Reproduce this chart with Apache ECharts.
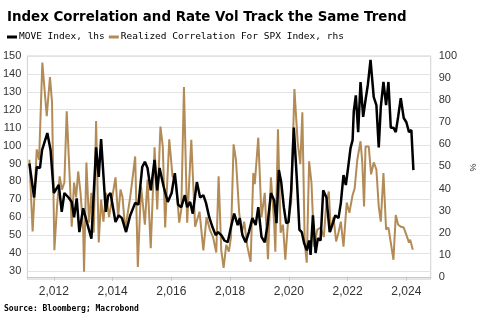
<!DOCTYPE html>
<html>
<head>
<meta charset="utf-8">
<script src="https://cdn.jsdelivr.net/npm/echarts@6/dist/echarts.min.js"></script>
<style>
html,body{margin:0;padding:0;background:#fff;}
#chart{width:485px;height:326px;}
</style>
</head>
<body>
<div id="chart"></div>
<script>
const titleText = 'Index Correlation and Rate Vol Track the Same Trend';
const sourceText = 'Source: Bloomberg; Macrobond';
const moveName = 'MOVE Index, lhs';
const corrName = 'Realized Correlation For SPX Index, rhs';
const yearTicks = [2012, 2014, 2016, 2018, 2020, 2022, 2024];

const moveYears = [2011.17,2011.33,2011.42,2011.53,2011.60,2011.78,2011.89,2012.00,2012.17,2012.27,2012.36,2012.50,2012.61,2012.69,2012.78,2012.87,2013.00,2013.13,2013.28,2013.44,2013.53,2013.61,2013.77,2013.85,2013.93,2014.10,2014.21,2014.32,2014.46,2014.60,2014.77,2014.88,2015.01,2015.10,2015.19,2015.30,2015.43,2015.52,2015.60,2015.74,2015.88,2016.01,2016.12,2016.23,2016.34,2016.46,2016.54,2016.64,2016.73,2016.87,2016.98,2017.09,2017.18,2017.29,2017.40,2017.51,2017.59,2017.70,2017.81,2017.92,2018.03,2018.14,2018.26,2018.33,2018.42,2018.53,2018.64,2018.76,2018.87,2018.96,2019.07,2019.18,2019.27,2019.39,2019.50,2019.58,2019.66,2019.74,2019.83,2019.91,2019.99,2020.08,2020.17,2020.28,2020.36,2020.44,2020.52,2020.61,2020.69,2020.74,2020.82,2020.91,2020.99,2021.08,2021.17,2021.28,2021.39,2021.50,2021.58,2021.69,2021.77,2021.86,2021.94,2022.02,2022.10,2022.17,2022.21,2022.28,2022.36,2022.44,2022.53,2022.61,2022.69,2022.78,2022.89,2022.98,2023.06,2023.13,2023.22,2023.31,2023.39,2023.47,2023.56,2023.64,2023.72,2023.81,2023.91,2024.00,2024.09,2024.17,2024.24];
const moveValues = [90,71,88,87.5,97.5,107,97.5,73.5,78,63,73.5,71,68.5,60,70.5,51.7,65,57,48,99,82.5,103.6,63,72,73.5,57.3,61,59.5,51.7,61,68,67,88,91,87.5,75,92,75,87.5,77,68.5,73.5,84.6,67,65.6,72.3,65.6,68.5,62,79.6,71,72.3,68,60,54.5,50,51.7,50,47,46,54.5,62,55.6,59.5,50,46,51.7,59.5,55.6,65.6,49,46,55,73.5,69.5,56.7,86.3,79.6,65.6,56.7,57.3,75,110,79,53,51.7,45.5,41.5,47,39,61,40,48.3,47,75,71,51.7,56.7,61,59.5,68,83.5,78,88,98.6,103,119,128,107.5,135.5,116,125.4,134,147.8,127,122.6,99,121.5,135.5,122.6,135.5,110,110,107.5,116,126.5,115.4,113,107.5,108.7,86.3];

const corrYears = [2011.17,2011.28,2011.42,2011.50,2011.61,2011.76,2011.87,2011.94,2012.02,2012.11,2012.20,2012.28,2012.36,2012.44,2012.56,2012.61,2012.69,2012.76,2012.83,2012.91,2013.00,2013.03,2013.11,2013.20,2013.28,2013.36,2013.44,2013.53,2013.61,2013.69,2013.78,2013.88,2014.10,2014.19,2014.27,2014.34,2014.43,2014.60,2014.77,2014.86,2014.97,2015.10,2015.19,2015.30,2015.43,2015.52,2015.63,2015.71,2015.79,2015.93,2016.04,2016.16,2016.27,2016.34,2016.43,2016.54,2016.68,2016.81,2016.96,2017.09,2017.20,2017.31,2017.42,2017.53,2017.61,2017.70,2017.78,2017.87,2017.96,2018.03,2018.12,2018.20,2018.31,2018.40,2018.48,2018.59,2018.70,2018.79,2018.84,2018.96,2019.07,2019.18,2019.29,2019.39,2019.50,2019.54,2019.63,2019.72,2019.80,2019.88,2019.97,2020.08,2020.19,2020.30,2020.39,2020.46,2020.54,2020.61,2020.69,2020.77,2020.86,2020.97,2021.08,2021.19,2021.28,2021.36,2021.43,2021.52,2021.61,2021.69,2021.77,2021.86,2021.97,2022.06,2022.17,2022.24,2022.33,2022.44,2022.50,2022.56,2022.61,2022.72,2022.80,2022.89,2022.98,2023.06,2023.13,2023.22,2023.31,2023.39,2023.47,2023.56,2023.64,2023.72,2023.81,2023.91,2024.00,2024.09,2024.13,2024.22];
const corrValues = [53,20.5,57.7,53,97,72.7,90.5,79,12,32,45.5,39.5,42.7,75,39.5,22.7,42.7,36,47.7,38,21.4,2.3,51.8,24.5,38,20,70.5,15.5,35,25,38,27,45,27,39.5,36,21.4,36,54.5,4.5,41,23.6,44,13,58.6,30.5,68,59,22.3,62.3,45.5,42.7,24.5,30.5,86,24.5,62,22.7,29.5,12,27,21.4,18,11,45.5,12,4,14.5,11.4,18,60,53,29,20,25,13.6,6.8,47,42,63,27,38,8,45,24.5,11.4,66.8,20,23.6,7.7,24.5,33.6,85,61,51,74.5,15.5,6.4,52.3,42.7,13.6,21.4,22.3,18,33.6,38.6,20.5,27,16,20,25,13.6,33.6,29,37,40,53,61.4,51.8,31.8,59,59,46.4,51.8,48.6,31.8,25,47,21.4,22.3,15.5,7.7,28,23.6,22.7,22.3,19,15.5,16.8,12.3];

const moveData = moveYears.map((y, i) => [y, moveValues[i]]);
const corrData = corrYears.map((y, i) => [y, corrValues[i]]);

const labelColor = '#333';
const chart = echarts.init(document.getElementById('chart'), null, {renderer: 'canvas'});
chart.setOption({
  animation: false,
  backgroundColor: '#fff',
  title: {
    text: titleText, left: 2, top: 6,
    textStyle: {fontFamily: 'DejaVu Sans', fontWeight: 'bold', fontSize: 13.4, color: '#000'}
  },
  legend: {
    left: 2, top: 27, itemGap: 4, itemWidth: 10, itemHeight: 3, icon: 'rect',
    data: [moveName, corrName],
    textStyle: {fontFamily: 'DejaVu Sans Mono', fontSize: 9.5, color: '#000', padding: [0, 0, 0, -3]}
  },
  graphic: [{
    type: 'text', left: 4, top: 305,
    style: {text: sourceText, fontFamily: 'DejaVu Sans Mono', fontWeight: 'bold', fontSize: 8, fill: '#000'}
  }],
  grid: {left: 25, right: 48, top: 56, bottom: 47, show: true, borderColor: '#d0d0d0', borderWidth: 1, containLabel: false},
  xAxis: {
    type: 'value', min: 2011.1, max: 2024.83,
    axisLine: {show: true, lineStyle: {color: '#c8c8c8'}},
    axisTick: {show: true, inside: false, length: 4, customValues: yearTicks, lineStyle: {color: '#c8c8c8'}},
    axisLabel: {customValues: yearTicks, margin: 7, fontFamily: 'Liberation Sans', fontSize: 12, color: labelColor},
    splitLine: {show: false}
  },
  yAxis: [{
    type: 'value', position: 'left', min: 25.5, max: 150, splitNumber: 12,
    axisLine: {show: false}, axisTick: {show: false},
    axisLabel: {showMinLabel: false, margin: 6, fontFamily: 'Liberation Sans', fontSize: 11, color: labelColor},
    splitLine: {show: true, lineStyle: {color: '#e3e3e3', width: 1}}
  }, {
    type: 'value', position: 'right', min: -1, max: 100, splitNumber: 10,
    name: '%', nameLocation: 'middle', nameGap: 32, nameRotate: -90,
    nameTextStyle: {fontFamily: 'Liberation Sans', fontSize: 9, color: labelColor},
    axisLine: {show: false}, axisTick: {show: false},
    axisLabel: {showMinLabel: false, margin: 8, fontFamily: 'Liberation Sans', fontSize: 11, color: labelColor},
    splitLine: {show: false}
  }],
  series: [{
    name: moveName, type: 'line', yAxisIndex: 0, data: moveData, showSymbol: false, symbol: 'none', z: 3,
    itemStyle: {color: '#000'}, lineStyle: {color: '#000', width: 2.5}
  }, {
    name: corrName, type: 'line', yAxisIndex: 1, data: corrData, showSymbol: false, symbol: 'none', z: 2,
    itemStyle: {color: '#b38b57'}, lineStyle: {color: '#b38b57', width: 2}
  }]
});
</script>
</body>
</html>
